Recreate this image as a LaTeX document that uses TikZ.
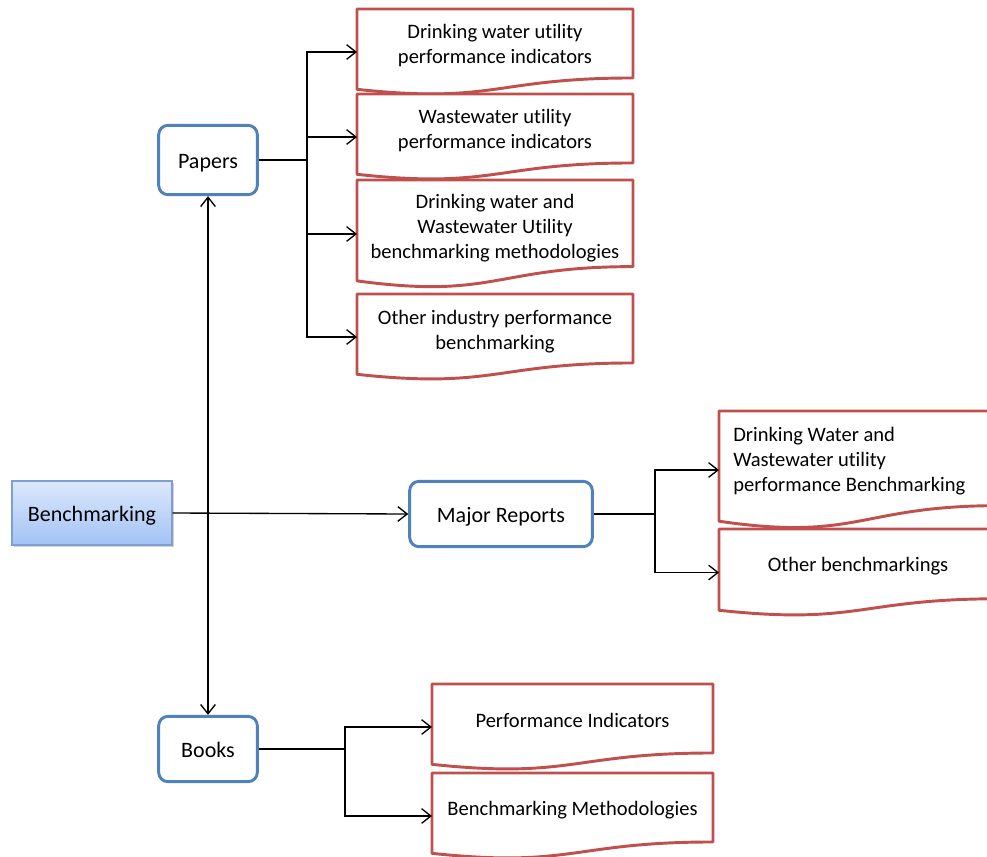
\documentclass[tikz,border=0pt]{standalone}
\usepackage{fontspec}
\setmainfont{Carlito}[Ligatures=CommonOff]
\usetikzlibrary{arrows.meta,shadows,calc}
\definecolor{docred}{HTML}{C0504D}
\definecolor{boxblue}{HTML}{4F81BD}
\definecolor{bmtop}{HTML}{DCE8FC}
\definecolor{bmbot}{HTML}{A3C2F4}
\definecolor{bmline}{HTML}{7F9FD3}
\newcommand{\docshape}[5]{%
  \node[docarea, minimum width=#4*0.75pt, minimum height=#5*0.75pt, anchor=north west] (#1) at (#2,#3) {};
  \draw[docline] (#2,#3) -- ({#2+#4},#3) -- ({#2+#4},{#3+0.802*#5})
    .. controls ({#2+0.5*#4},{#3+0.802*#5}) and ({#2+0.5*#4},{#3+1.1075*#5}) .. (#2,{#3+0.934*#5}) -- cycle;
}
\begin{document}
\begin{tikzpicture}[x=0.75pt,y=-0.75pt,
  conn/.style={line width=1pt, draw=black},
  arr/.style={conn, -{Straight Barb[length=7pt,width=11pt,line width=1pt]}},
  darr/.style={conn, {Straight Barb[length=7pt,width=11pt,line width=1pt]}-{Straight Barb[length=7pt,width=11pt,line width=1pt]}},
  docarea/.style={rectangle, inner sep=0pt, outer sep=0pt},
  docline/.style={draw=docred, line width=2.2pt, line join=round, fill=white},
  doctext/.style={align=center, font=\fontsize{15.4}{18.8}\selectfont, inner sep=0pt, yshift=-1.8pt},
  rbox/.style={draw=boxblue, line width=2.2pt, rounded corners=7pt, fill=white, align=center,
    font=\fontsize{16.5}{20}\selectfont, inner sep=0pt, text depth=0pt, text height=12pt},
  bmbox/.style={draw=bmline, line width=0.8pt, top color=bmtop, bottom color=bmbot,
    font=\fontsize{16.5}{20}\selectfont, inner sep=0pt, text depth=0pt, text height=12pt,
    drop shadow={shadow xshift=1.5pt, shadow yshift=-1.5pt, fill=black!35, opacity=0.5}}
  ]
\clip (0,0) rectangle (987,856);
\fill[white] (0,0) rectangle (987,856);

% main boxes
\node[bmbox, minimum width=120pt, minimum height=48pt] (bm) at (92,513) {Benchmarking};
\node[rbox, minimum width=74pt, minimum height=52pt] (papers) at (208,160) {Papers};
\node[rbox, minimum width=74pt, minimum height=49pt] (books) at (208,749) {Books};
\node[rbox, minimum width=137pt, minimum height=49pt] (major) at (501,514) {Major Reports};

% documents
\docshape{d1}{357}{9}{276}{86}
\node[doctext] (t1) at (495,43.5) {Drinking water utility\\performance indicators};
\docshape{d2}{357}{94}{276}{86}
\node[doctext] (t2) at (495,128.5) {Wastewater utility\\performance indicators};
\docshape{d3}{357}{180}{276}{108}
\node[doctext] (t3) at (495,226) {Drinking water and\\Wastewater Utility\\benchmarking methodologies};
\docshape{d4}{357}{294}{276}{86}
\node[doctext] (t4) at (495,329.5) {Other industry performance\\benchmarking};
\docshape{d5}{719}{411}{280}{118}
\node[doctext, align=left, anchor=west] (t5) at (733,458.5) {Drinking Water and\\Wastewater utility\\performance Benchmarking};
\docshape{d6}{719}{529}{280}{87}
\node[doctext] (t6) at (858,564) {Other benchmarkings};
\docshape{d7}{432}{684}{281}{86}
\node[doctext] (t7) at (572.5,718.5) {Performance Indicators};
\docshape{d8}{432}{773}{281}{86}
\node[doctext] (t8) at (572.5,807.5) {Benchmarking Methodologies};

% junction coordinates
\coordinate (pj) at (307,160);
\coordinate (mj) at (655,514);
\coordinate (bj) at (345,749);

% connectors
\draw[darr] (papers.south) -- (books.north);
\draw[arr] (bm.east) -- (major.west);

\draw[conn] (papers.east) -- (pj);
\draw[arr] (pj) |- (d1.west);
\draw[arr] (pj) |- (d2.west);
\draw[arr] (pj) |- (d3.west);
\draw[arr] (pj) |- (d4.west);

\draw[conn] (major.east) -- (mj);
\draw[arr] (mj) |- (d5.west);
\draw[arr] (mj) |- (d6.west);

\draw[conn] (books.east) -- (bj);
\draw[arr] (bj) |- (d7.west);
\draw[arr] (bj) |- (d8.west);
\end{tikzpicture}
\end{document}
